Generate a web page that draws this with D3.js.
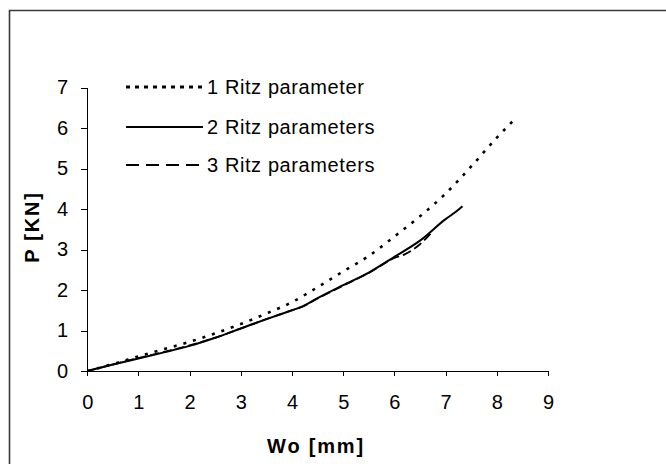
<!DOCTYPE html>
<html>
<head>
<meta charset="utf-8">
<script src="https://cdn.jsdelivr.net/npm/d3@7"></script>
<style>
  body { margin: 0; background: #fff; }
  svg { display: block; font-family: "Liberation Sans", Arial, sans-serif; }
  .axis path, .axis line { stroke: #000; stroke-width: 1; shape-rendering: crispEdges; }
  .axis text { font-size: 20px; fill: #000; }
  .label { font-size: 20px; font-weight: bold; letter-spacing: 1.8px; fill: #000; }
  .legend text { font-size: 20px; letter-spacing: 0.6px; fill: #000; }
</style>
</head>
<body>
<script>
// data: Wo [mm] against P [KN]
var seriesNames = ["1 Ritz parameter", "2 Ritz parameters", "3 Ritz parameters"];

var wo1 = [0, 0.5, 1, 1.5, 2, 2.5, 3, 3.5, 4, 4.5, 5, 5.5, 6, 6.5, 7, 7.5, 8, 8.32];
var p1 = [0, 0.17, 0.36, 0.54, 0.72, 0.93, 1.16, 1.42, 1.70, 2.07, 2.46, 2.84, 3.32, 3.82, 4.38, 5.05, 5.76, 6.18];

var wo2 = [0, 0.5, 1, 1.5, 2, 2.5, 3, 3.5, 4, 4.2, 4.5, 5, 5.5, 6, 6.5, 7, 7.2, 7.33];
var p2 = [0, 0.16, 0.31, 0.46, 0.62, 0.82, 1.05, 1.28, 1.50, 1.59, 1.80, 2.12, 2.43, 2.82, 3.22, 3.75, 3.93, 4.07];

var wo3 = [0, 0.5, 1, 1.5, 2, 2.5, 3, 3.5, 4, 4.2, 4.5, 5, 5.5, 6, 6.2, 6.5, 6.75];
var p3 = [0, 0.16, 0.32, 0.47, 0.63, 0.82, 1.05, 1.28, 1.50, 1.59, 1.79, 2.11, 2.42, 2.79, 2.88, 3.13, 3.45];

var xTicks = [0, 1, 2, 3, 4, 5, 6, 7, 8, 9];
var yTicks = [0, 1, 2, 3, 4, 5, 6, 7];

var svgWidth = 666,
    svgHeight = 464;

var margin = { top: 87.5, right: 118, bottom: 93, left: 87.2 };
var width = svgWidth - margin.left - margin.right,
    height = svgHeight - margin.top - margin.bottom;

var svg = d3.select("body").append("svg")
    .attr("width", svgWidth)
    .attr("height", svgHeight);

// chart area border (only top and left show in the crop)
svg.append("path")
    .attr("d", "M9.5," + (svgHeight + 2) + "V10.5H" + (svgWidth + 2))
    .attr("fill", "none")
    .attr("stroke", "#3a3a3a")
    .attr("stroke-width", 1.6);

var g = svg.append("g")
    .attr("transform", "translate(" + margin.left + "," + margin.top + ")");

var x = d3.scaleLinear().domain([0, 9]).range([0, width]);
var y = d3.scaleLinear().domain([0, 7]).range([height, 0]);

var xAxis = d3.axisBottom(x).tickValues(xTicks).tickFormat(d3.format("d"))
    .tickSize(5).tickPadding(18.5).tickSizeOuter(0);
var yAxis = d3.axisLeft(y).tickValues(yTicks).tickFormat(d3.format("d"))
    .tickSize(6).tickPadding(13).tickSizeOuter(0);

g.append("g")
    .attr("class", "x axis")
    .attr("transform", "translate(0," + height + ")")
    .call(xAxis);

g.append("g")
    .attr("class", "y axis")
    .call(yAxis);

g.selectAll(".axis").attr("font-size", null).attr("font-family", null);

// axis titles
svg.append("text")
    .attr("class", "label")
    .attr("x", 316)
    .attr("y", 453)
    .style("text-anchor", "middle")
    .text("Wo [mm]");

svg.append("text")
    .attr("class", "label")
    .attr("transform", "translate(38.5,227) rotate(-90)")
    .style("text-anchor", "middle")
    .text("P [KN]");

// series
var styles = [
    { dash: "3,7", legendDash: "4,5", width: 2.6, legendWidth: 3 },
    { dash: null, legendDash: null, width: 2, legendWidth: 2 },
    { dash: "9,4", legendDash: "13,7", width: 1.8, legendWidth: 2.2 }
];

var series = [
    d3.zip(wo1, p1),
    d3.zip(wo2, p2),
    d3.zip(wo3, p3)
];

var line = d3.line()
    .x(function(d) { return x(d[0]); })
    .y(function(d) { return y(d[1]); })
    .curve(d3.curveMonotoneX);

// draw 3 then 1 then 2, so the solid line sits on top like the original
[2, 0, 1].forEach(function(i) {
    g.append("path")
        .datum(series[i])
        .attr("fill", "none")
        .attr("stroke", "#000")
        .attr("stroke-width", styles[i].width)
        .attr("stroke-dasharray", styles[i].dash)
        .attr("d", line);
});

// legend
var legendRows = [87, 127, 165];
var legend = svg.append("g").attr("class", "legend");

seriesNames.forEach(function(name, i) {
    legend.append("line")
        .attr("x1", 126)
        .attr("x2", 203)
        .attr("y1", legendRows[i])
        .attr("y2", legendRows[i])
        .attr("stroke", "#000")
        .attr("stroke-width", styles[i].legendWidth)
        .attr("stroke-dasharray", styles[i].legendDash);

    legend.append("text")
        .attr("x", 207)
        .attr("y", legendRows[i])
        .attr("dy", "0.35em")
        .text(name);
});
</script>
</body>
</html>
